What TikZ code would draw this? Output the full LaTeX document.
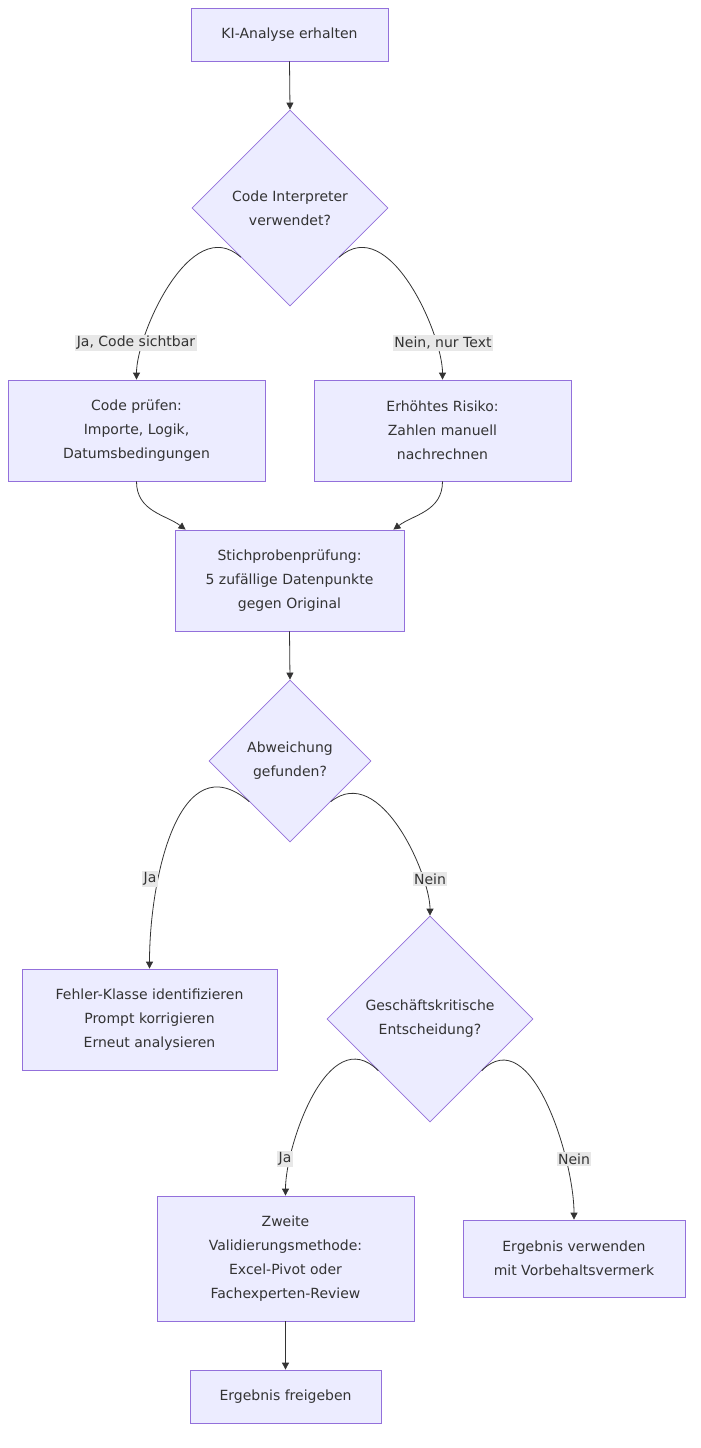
\documentclass[tikz,border=0pt]{standalone}
\usepackage{fontspec}
\setmainfont{DejaVu Sans}
\usetikzlibrary{shapes.geometric,arrows.meta,calc}
\definecolor{nfill}{HTML}{ECECFF}
\definecolor{nstroke}{HTML}{9370DB}
\definecolor{tcol}{HTML}{333333}
\definecolor{lbg}{HTML}{E8E8E8}
\begin{document}
\begin{tikzpicture}[x=1pt,y=-1pt,
  every node/.style={text=tcol,font=\fontsize{14}{24}\selectfont,align=center},
  box/.style={draw=nstroke,fill=nfill,line width=0.8pt,inner sep=0pt},
  dia/.style={draw=nstroke,fill=nfill,line width=0.8pt,diamond,inner sep=0pt},
  lbl/.style={fill=lbg,inner sep=1.5pt},
  conn/.style={draw=tcol,line width=0.8pt,-{Triangle[length=7pt,width=7pt]}}]
\useasboundingbox (0,0) rectangle (701,1448);
\node[box,minimum width=197,minimum height=53] (A) at (289.5,34.5) {KI-Analyse erhalten};
\node[dia,minimum width=196,minimum height=196] (B) at (290,208) {Code Interpreter\\verwendet?};
\node[box,minimum width=257,minimum height=101] (C) at (136.5,430.5) {Code prüfen:\\Importe, Logik,\\Datumsbedingungen};
\node[box,minimum width=257,minimum height=101] (D) at (442.5,430.5) {Erhöhtes Risiko:\\Zahlen manuell\\nachrechnen};
\node[box,minimum width=229,minimum height=101] (E) at (289.5,580.5) {Stichprobenprüfung:\\5 zufällige Datenpunkte\\gegen Original};
\node[dia,minimum width=162,minimum height=162] (F) at (290,761) {Abweichung\\gefunden?};
\node[box,minimum width=255,minimum height=101] (G) at (149.5,1019.5) {Fehler-Klasse identifizieren\\Prompt korrigieren\\Erneut analysieren};
\node[dia,minimum width=206,minimum height=206] (H) at (430,1019) {Geschäftskritische\\Entscheidung?};
\node[box,minimum width=257,minimum height=125] (I) at (285.5,1258.5) {Zweite\\Validierungsmethode:\\Excel-Pivot oder\\Fachexperten-Review};
\node[box,minimum width=222,minimum height=77] (J) at (574,1258.5) {Ergebnis verwenden\\mit Vorbehaltsvermerk};
\node[box,minimum width=191,minimum height=53] (K) at (285.5,1396.5) {Ergebnis freigeben};

\draw[conn] (A.south) -- (B.north);
\draw[conn] (B.south west) .. controls +(-50,-45) and +(0,-45) .. (C.north);
\draw[conn] (B.south east) .. controls +(50,-45) and +(0,-45) .. (D.north);
\draw[conn] (C.south) .. controls +(0,30) and +(-20,-15) .. ($(E.north west)+(11,0)$);
\draw[conn] (D.south) .. controls +(0,30) and +(20,-15) .. ($(E.north east)+(-11,0)$);
\draw[conn] (E.south) -- (F.north);
\draw[conn] (F.south west) .. controls +(-70,-60) and +(0,-90) .. (G.north);
\draw[conn] (F.south east) .. controls +(50,-40) and +(0,-40) .. (H.north);
\draw[conn] (H.south west) .. controls +(-50,-50) and +(0,-50) .. (I.north);
\draw[conn] (H.south east) .. controls +(50,-50) and +(0,-60) .. (J.north);
\draw[conn] (I.south) -- (K.north);

\node[lbl] (l1) at (136,343) {Ja, Code sichtbar};
\node[lbl] (l2) at (443,343) {Nein, nur Text};
\node[lbl] (l3) at (150,879) {Ja};
\node[lbl] (l4) at (430,879) {Nein};
\node[lbl] (l5) at (285,1159) {Ja};
\node[lbl] (l6) at (574,1159) {Nein};
\end{tikzpicture}
\end{document}
